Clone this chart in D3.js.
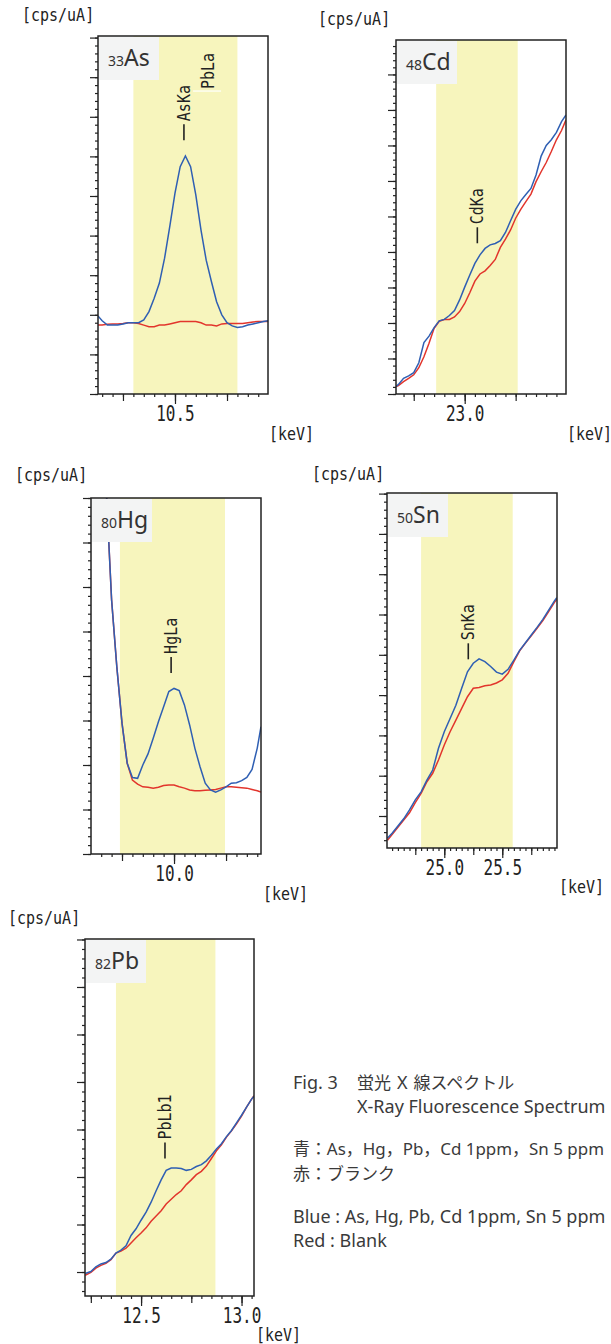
<!DOCTYPE html>
<html>
<head>
<meta charset="utf-8">
<script src="https://cdn.jsdelivr.net/npm/d3@7"></script>
<style>
  body { margin: 0; background: #fff; }
  svg { display: block; }
</style>
</head>
<body>
<div id="chart"></div>
<script>
// Data: energy in keV, intensity in cps/uA (one unit = one major y tick)
const asEnergy = [10.13, 10.15, 10.175, 10.2, 10.225, 10.25, 10.275, 10.3, 10.325, 10.35, 10.375, 10.4, 10.425, 10.45, 10.475, 10.5, 10.525, 10.55, 10.575, 10.6, 10.625, 10.65, 10.675, 10.7, 10.725, 10.75, 10.775, 10.8, 10.825, 10.85, 10.875, 10.9, 10.925, 10.947]
const asBlue = [1.97, 1.85, 1.74, 1.74, 1.74, 1.77, 1.80, 1.80, 1.80, 1.87, 2.08, 2.42, 2.80, 3.43, 4.23, 5.07, 5.74, 6.01, 5.74, 5.03, 4.14, 3.38, 2.84, 2.33, 2.00, 1.80, 1.72, 1.68, 1.70, 1.74, 1.77, 1.80, 1.83, 1.85]
const asRed = [1.74, 1.74, 1.76, 1.77, 1.77, 1.78, 1.80, 1.80, 1.78, 1.74, 1.70, 1.70, 1.74, 1.74, 1.77, 1.80, 1.83, 1.83, 1.83, 1.83, 1.80, 1.74, 1.74, 1.72, 1.77, 1.78, 1.78, 1.78, 1.78, 1.80, 1.82, 1.83, 1.83, 1.83]

const cdEnergy = [22.663, 22.675, 22.7, 22.725, 22.75, 22.775, 22.8, 22.825, 22.85, 22.875, 22.9, 22.925, 22.95, 22.975, 23.0, 23.025, 23.05, 23.075, 23.1, 23.125, 23.15, 23.175, 23.2, 23.225, 23.25, 23.275, 23.3, 23.325, 23.35, 23.375, 23.4, 23.425, 23.45, 23.475, 23.497]
const cdBlue = [0.21, 0.27, 0.44, 0.51, 0.60, 0.88, 1.45, 1.63, 1.87, 2.06, 2.10, 2.21, 2.35, 2.65, 3.01, 3.35, 3.68, 3.92, 4.10, 4.20, 4.24, 4.32, 4.55, 4.88, 5.20, 5.44, 5.62, 5.79, 6.17, 6.70, 7.00, 7.16, 7.37, 7.67, 7.86]
const cdRed = [0.21, 0.24, 0.35, 0.44, 0.54, 0.74, 1.05, 1.43, 1.85, 2.05, 2.10, 2.10, 2.17, 2.32, 2.55, 2.85, 3.18, 3.38, 3.47, 3.62, 3.79, 4.13, 4.36, 4.62, 4.95, 5.20, 5.42, 5.63, 5.98, 6.26, 6.52, 6.83, 7.16, 7.42, 7.72]

const hgEnergy = [9.675, 9.7, 9.725, 9.75, 9.775, 9.8, 9.825, 9.85, 9.875, 9.9, 9.925, 9.95, 9.975, 10.0, 10.025, 10.05, 10.075, 10.1, 10.125, 10.15, 10.175, 10.2, 10.225, 10.25, 10.275, 10.3, 10.325, 10.35, 10.375, 10.4, 10.418]
const hgBlue = [8.11, 5.71, 4.21, 2.94, 2.04, 1.72, 1.70, 2.00, 2.25, 2.60, 2.97, 3.31, 3.65, 3.72, 3.67, 3.35, 2.90, 2.38, 1.96, 1.59, 1.44, 1.39, 1.44, 1.51, 1.59, 1.60, 1.65, 1.72, 1.90, 2.38, 2.86]
const hgRed = [8.11, 5.71, 4.21, 2.94, 2.04, 1.66, 1.57, 1.51, 1.50, 1.48, 1.50, 1.54, 1.55, 1.55, 1.51, 1.48, 1.44, 1.42, 1.42, 1.43, 1.44, 1.45, 1.48, 1.51, 1.51, 1.50, 1.49, 1.48, 1.45, 1.42, 1.39]

const snEnergy = [24.51, 24.55, 24.6, 24.65, 24.7, 24.75, 24.8, 24.85, 24.9, 24.95, 25.0, 25.05, 25.1, 25.15, 25.2, 25.25, 25.3, 25.35, 25.4, 25.45, 25.5, 25.55, 25.6, 25.65, 25.7, 25.75, 25.8, 25.85, 25.9, 25.95, 25.97]
const snBlue = [0.45, 0.57, 0.75, 0.93, 1.15, 1.40, 1.60, 1.89, 2.14, 2.68, 3.09, 3.42, 3.75, 4.17, 4.58, 4.79, 4.90, 4.83, 4.71, 4.57, 4.52, 4.64, 4.87, 5.11, 5.30, 5.49, 5.68, 5.88, 6.11, 6.34, 6.42]
const snRed = [0.40, 0.54, 0.72, 0.90, 1.08, 1.33, 1.56, 1.85, 2.06, 2.39, 2.76, 3.09, 3.38, 3.67, 3.96, 4.17, 4.19, 4.23, 4.25, 4.30, 4.38, 4.54, 4.83, 5.10, 5.29, 5.47, 5.66, 5.85, 6.07, 6.30, 6.38]

const pbEnergy = [12.222, 12.25, 12.275, 12.3, 12.325, 12.35, 12.375, 12.4, 12.425, 12.45, 12.475, 12.5, 12.525, 12.55, 12.575, 12.6, 12.625, 12.65, 12.675, 12.7, 12.725, 12.75, 12.775, 12.8, 12.825, 12.85, 12.875, 12.9, 12.925, 12.95, 12.975, 13.0, 13.025, 13.05, 13.062]
const pbBlue = [0.97, 1.01, 1.11, 1.17, 1.20, 1.27, 1.40, 1.46, 1.55, 1.77, 1.91, 2.09, 2.26, 2.47, 2.71, 2.94, 3.14, 3.19, 3.19, 3.18, 3.14, 3.16, 3.22, 3.26, 3.34, 3.46, 3.59, 3.70, 3.85, 3.98, 4.14, 4.30, 4.47, 4.64, 4.70]
const pbRed = [0.93, 0.99, 1.08, 1.14, 1.18, 1.26, 1.40, 1.44, 1.50, 1.61, 1.72, 1.82, 1.93, 2.07, 2.18, 2.29, 2.43, 2.53, 2.63, 2.71, 2.84, 2.94, 3.05, 3.12, 3.23, 3.39, 3.55, 3.68, 3.84, 3.97, 4.12, 4.28, 4.47, 4.64, 4.71]

// ROI bands (keV)
const asBand = [10.30, 10.80]
const cdBand = [22.86, 23.26]
const hgBand = [9.74, 10.245]
const snBand = [24.80, 25.59]
const pbBand = [12.375, 12.87]

// labelled x ticks
const asTicks = [10.5]
const cdTicks = [23.0]
const hgTicks = [10.0]
const snTicks = [25.0, 25.5]
const pbTicks = [12.5, 13.0]

// emission lines
const asLines = [{ name: 'AsKa', e: 10.543 }, { name: 'PbLa', e: 10.659 }]
const cdLines = [{ name: 'CdKa', e: 23.062 }]
const hgLines = [{ name: 'HgLa', e: 9.986 }]
const snLines = [{ name: 'SnKa', e: 25.207 }]
const pbLines = [{ name: 'PbLb1', e: 12.619 }]

const mono = "'DejaVu Sans Mono', monospace"
const sans = "'Noto Sans', 'Noto Sans CJK JP', sans-serif"
const cjk = "'Noto Sans CJK JP', sans-serif"

function draw() {
  const svg = d3.select('#chart')
    .append('svg')
    .attr('width', 611)
    .attr('height', 1344)

  const defs = svg.append('defs')

  const panels = [
    { z: '33', sym: 'As', energy: asEnergy, blue: asBlue, red: asRed, band: asBand, ticks: asTicks, lines: asLines,
      left: 98, top: 36, width: 170, height: 358, xDomain: [10.13, 10.947], yDomain: [0, 9.04],
      notes: [{ at: 6.41, dash: true }, { at: 7.65, dash: false }], unitPos: [22, 21], kevPos: [269, 440] },
    { z: '48', sym: 'Cd', energy: cdEnergy, blue: cdBlue, red: cdRed, band: cdBand, ticks: cdTicks, lines: cdLines,
      left: 396, top: 40, width: 170, height: 354, xDomain: [22.663, 23.497], yDomain: [0, 9.97],
      notes: [{ at: 4.245, dash: true }], unitPos: [318, 24.5], kevPos: [567, 440] },
    { z: '80', sym: 'Hg', energy: hgEnergy, blue: hgBlue, red: hgRed, band: hgBand, ticks: hgTicks, lines: hgLines,
      left: 91, top: 498, width: 170, height: 356, xDomain: [9.601, 10.418], yDomain: [0, 8.0],
      notes: [{ at: 4.07, dash: true }], unitPos: [15, 481], kevPos: [263, 899.5] },
    { z: '50', sym: 'Sn', energy: snEnergy, blue: snBlue, red: snRed, band: snBand, ticks: snTicks, lines: snLines,
      left: 387, top: 493, width: 170, height: 355, xDomain: [24.506, 25.972], yDomain: [0.206, 9.015],
      notes: [{ at: 4.888, dash: true }], unitPos: [312, 479.5], kevPos: [559, 893] },
    { z: '82', sym: 'Pb', energy: pbEnergy, blue: pbBlue, red: pbRed, band: pbBand, ticks: pbTicks, lines: pbLines,
      left: 85, top: 939, width: 169, height: 357, xDomain: [12.221, 13.062], yDomain: [0.495, 8.01],
      notes: [{ at: 3.388, dash: true }], unitPos: [8, 924], kevPos: [256, 1341] }
  ]

  const ticksEvery = (domain, step) =>
    d3.range(Math.ceil(domain[0] / step - 1e-6), Math.floor(domain[1] / step + 1e-6) + 1)
      .map(k => +(k * step).toFixed(3))

  panels.forEach((p, i) => {
    const xScale = d3.scaleLinear().domain(p.xDomain).range([0, p.width])
    const yScale = d3.scaleLinear().domain(p.yDomain).range([p.height, 0])

    const ctr = svg.append('g')
      .attr('transform', `translate(${p.left},${p.top})`)

    defs.append('clipPath')
      .attr('id', `clip-${i}`)
      .append('rect')
      .attr('width', p.width)
      .attr('height', p.height)

    // ROI band
    ctr.append('rect')
      .attr('x', xScale(p.band[0]))
      .attr('y', 0)
      .attr('width', xScale(p.band[1]) - xScale(p.band[0]))
      .attr('height', p.height)
      .attr('fill', '#f7f5bd')

    // spectra
    const lineGenerator = d3.line()
      .x((d, j) => xScale(p.energy[j]))
      .y(d => yScale(d))

    const plot = ctr.append('g').attr('clip-path', `url(#clip-${i})`)
    plot.append('path')
      .datum(p.red)
      .attr('d', lineGenerator)
      .attr('fill', 'none')
      .attr('stroke', '#e2352c')
      .attr('stroke-width', 1.5)
    plot.append('path')
      .datum(p.blue)
      .attr('d', lineGenerator)
      .attr('fill', 'none')
      .attr('stroke', '#2f5fb3')
      .attr('stroke-width', 1.5)

    // element label
    ctr.append('rect')
      .attr('x', 1)
      .attr('y', 1)
      .attr('width', 60)
      .attr('height', 43)
      .attr('fill', '#f3f4f4')
    const lab = ctr.append('text')
      .attr('x', 10)
      .attr('y', 30)
      .attr('font-family', sans)
      .attr('fill', '#333')
    lab.append('tspan').attr('font-size', 14).text(p.z)
    lab.append('tspan').attr('font-size', 23).text(p.sym)

    // line markers
    p.lines.forEach((ln, k) => {
      const note = p.notes[k]
      const lx = xScale(ln.e)
      const ly = yScale(note.at)
      if (note.dash) {
        ctr.append('line')
          .attr('x1', lx).attr('x2', lx)
          .attr('y1', ly).attr('y2', ly - 16)
          .attr('stroke', '#222')
          .attr('stroke-width', 1.6)
      } else {
        ctr.append('line')
          .attr('x1', lx - 15).attr('x2', lx + 13)
          .attr('y1', ly).attr('y2', ly)
          .attr('stroke', '#fff')
          .attr('stroke-width', 1.2)
      }
      ctr.append('text')
        .attr('transform', `translate(${lx + 6},${ly - (note.dash ? 19 : 2)}) rotate(-90) scale(1,1.15)`)
        .attr('font-family', mono)
        .attr('font-size', 15)
        .attr('fill', '#222')
        .text(ln.name)
    })

    // frame
    ctr.append('rect')
      .attr('width', p.width)
      .attr('height', p.height)
      .attr('fill', 'none')
      .attr('stroke', '#222')
      .attr('stroke-width', 1.5)

    // x axis
    const xTicks = (values, size) => ctr.append('g')
      .attr('transform', `translate(0,${p.height})`)
      .attr('color', '#222')
      .call(d3.axisBottom(xScale).tickValues(values).tickSize(size).tickFormat(''))
      .call(g => g.select('.domain').remove())
      .call(g => g.selectAll('.tick line').attr('stroke-width', 1.2))
    xTicks(ticksEvery(p.xDomain, 0.05), 3)
    xTicks(ticksEvery(p.xDomain, 0.25), 7)
    const labAxis = xTicks(p.ticks, 10)
    labAxis.call(d3.axisBottom(xScale).tickValues(p.ticks).tickSize(10).tickFormat(d3.format('.1f')))
      .call(g => g.select('.domain').remove())
    labAxis.selectAll('.tick line').attr('stroke-width', 1.2)
    labAxis.selectAll('.tick text')
      .attr('y', 0)
      .attr('dy', null)
      .attr('transform', 'translate(0,27) scale(1,1.28)')
      .attr('font-family', mono)
      .attr('font-size', 16)

    // y axis
    const yTicks = (values, size) => ctr.append('g')
      .attr('color', '#222')
      .call(d3.axisLeft(yScale).tickValues(values).tickSize(size).tickFormat(''))
      .call(g => g.select('.domain').remove())
      .call(g => g.selectAll('.tick line').attr('stroke-width', 1.2))
    yTicks(ticksEvery(p.yDomain, 0.2), 3)
    yTicks(ticksEvery(p.yDomain, 1), 8)

    // unit labels
    svg.append('text')
      .attr('transform', `translate(${p.unitPos[0]},${p.unitPos[1]}) scale(1,1.12)`)
      .attr('font-family', mono)
      .attr('font-size', 15)
      .attr('fill', '#222')
      .text('[cps/uA]')
    svg.append('text')
      .attr('transform', `translate(${p.kevPos[0]},${p.kevPos[1]}) scale(1,1.12)`)
      .attr('font-family', mono)
      .attr('font-size', 15)
      .attr('fill', '#222')
      .text('[keV]')
  })

  // Caption
  const cap = svg.append('g')
    .attr('font-family', sans)
    .attr('font-size', 18)
    .attr('fill', '#3a3a3a')

  cap.append('text').attr('x', 293).attr('y', 1089).text('Fig. 3')
  const jp = cap.append('text').attr('x', 357).attr('y', 1089)
  jp.append('tspan').attr('font-family', cjk).attr('font-size', 17).text('蛍光')
  jp.append('tspan').attr('dx', 6).text('X')
  jp.append('tspan').attr('dx', 6).attr('font-family', cjk).attr('font-size', 17).text('線スペクトル')
  cap.append('text').attr('x', 357).attr('y', 1113).text('X-Ray Fluorescence Spectrum')

  const l3 = cap.append('text').attr('x', 293).attr('y', 1155)
    .attr('font-size', 17)
    .attr('textLength', 311)
    .attr('lengthAdjust', 'spacingAndGlyphs')
  l3.append('tspan').attr('font-family', cjk).text('青：')
  l3.append('tspan').text('As，Hg，Pb，Cd 1ppm，Sn 5 ppm')
  cap.append('text').attr('x', 293).attr('y', 1180)
    .attr('font-family', cjk).attr('font-size', 17).text('赤：ブランク')

  cap.append('text').attr('x', 293).attr('y', 1223).text('Blue : As, Hg, Pb, Cd 1ppm, Sn 5 ppm')
  cap.append('text').attr('x', 293).attr('y', 1247).text('Red : Blank')
}

draw()
</script>
</body>
</html>
